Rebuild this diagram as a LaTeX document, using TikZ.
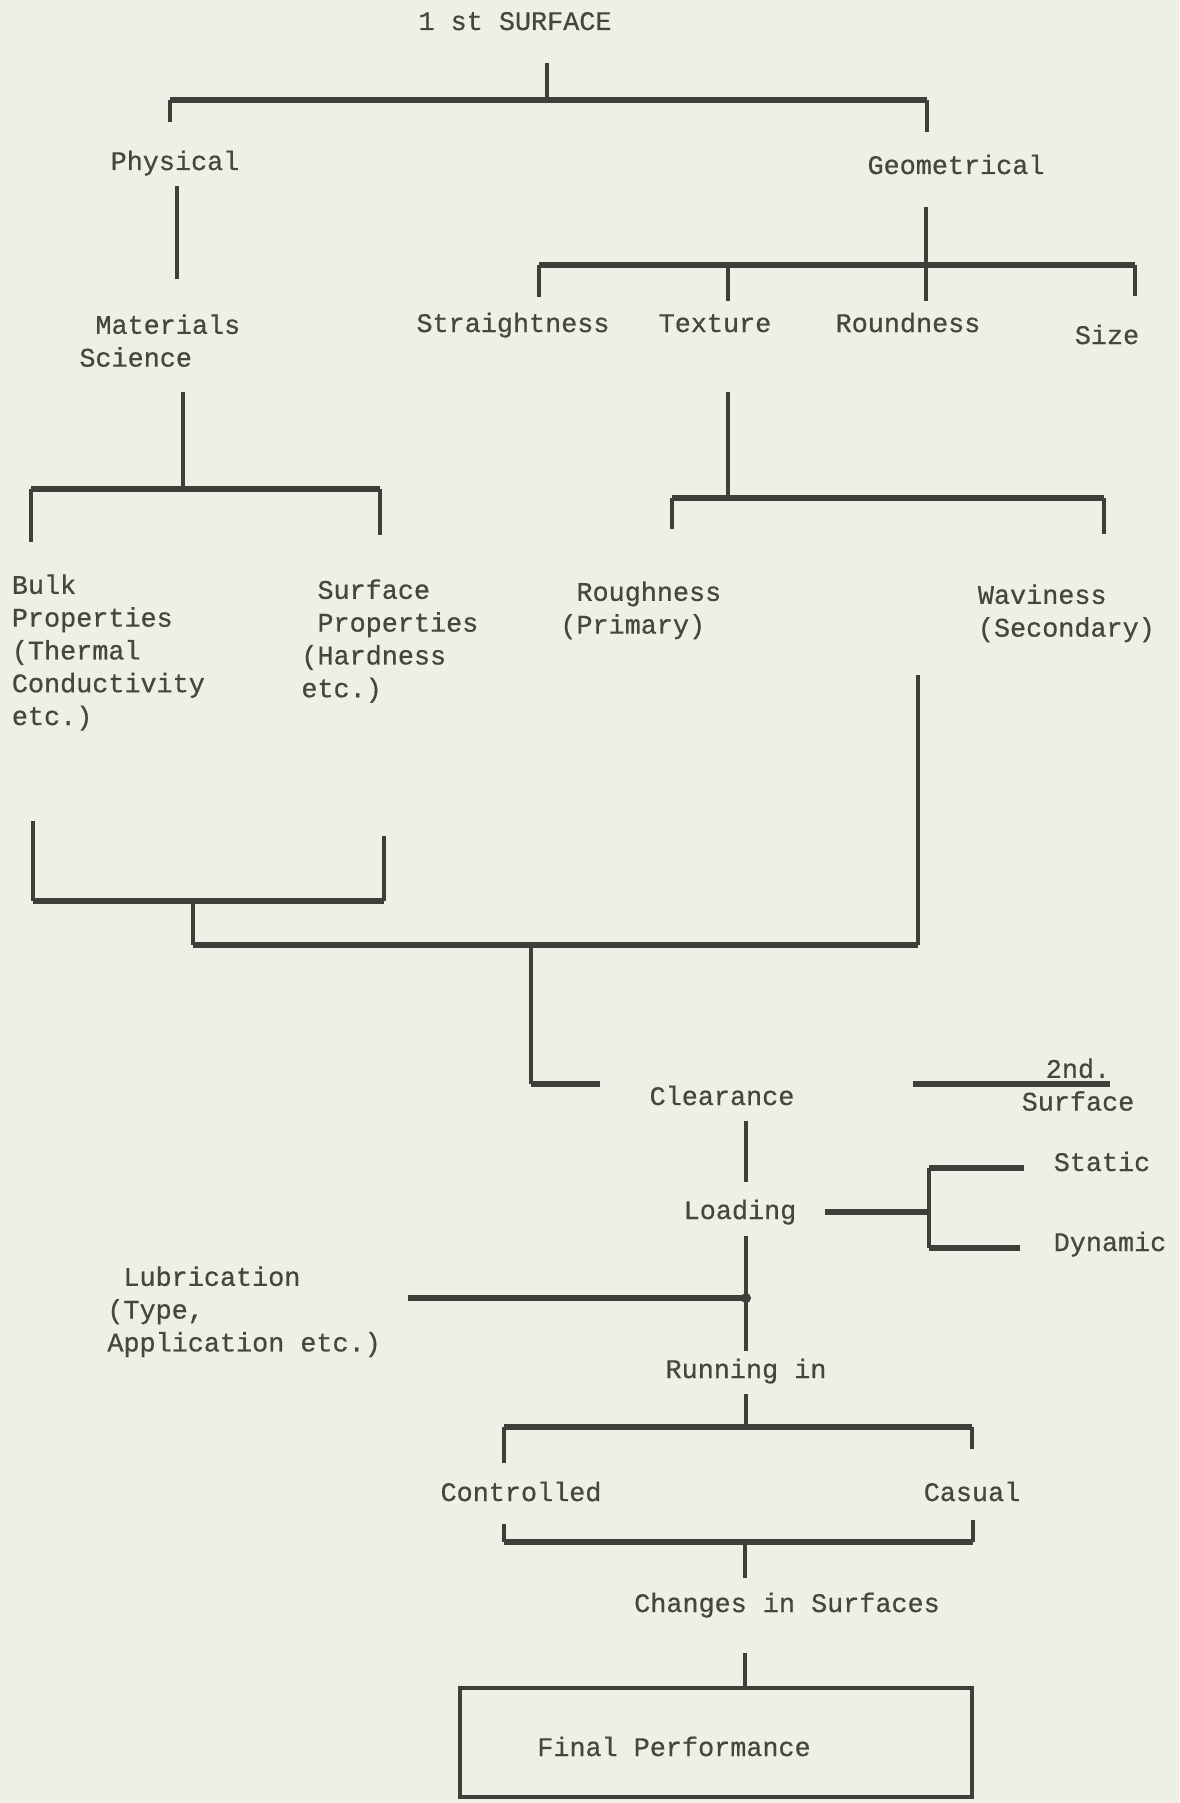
\documentclass[tikz,border=0pt]{standalone}
\usepackage{fontspec}
\setmonofont[FakeBold=0.6]{Liberation Mono}
\definecolor{paper}{RGB}{239,239,229}
\definecolor{ink}{RGB}{62,62,58}
\definecolor{inkt}{RGB}{70,70,64}
\begin{document}
\begin{tikzpicture}[x=0.5pt,y=-0.5pt,
  lbl/.style={font=\ttfamily\fontsize{13.4}{16.4}\selectfont, text=inkt, inner sep=0pt},
  mlbl/.style={lbl, align=left, anchor=north west},
  hbar/.style={draw=ink, line width=2.6pt},
  vbar/.style={draw=ink, line width=1.7pt},
  boxstyle/.style={draw=ink, line width=2.3pt, minimum width=256pt, minimum height=54.5pt, inner sep=0pt}]
\fill[paper] (0,0) rectangle (1179,1803);
\useasboundingbox (0,0) rectangle (1179,1803);
% ---------- labels ----------
\node[lbl, anchor=base] (top) at (515,30) {1 st SURFACE};
\node[lbl, anchor=base] (phys) at (175,170) {Physical};
\node[lbl, anchor=base] (geom) at (956,174) {Geometrical};
\node[mlbl] (mat) at (79,314) {\phantom{X}Materials\\Science};
\node[lbl, anchor=base] (straight) at (513,332) {Straightness};
\node[lbl, anchor=base] (texture) at (715,332) {Texture};
\node[lbl, anchor=base] (round) at (908,332) {Roundness};
\node[lbl, anchor=base] (size) at (1107,344) {Size};
\node[mlbl] (bulk) at (11.5,574) {Bulk\\Properties\\(Thermal\\Conductivity\\etc.)};
\node[mlbl] (surf) at (301,579) {\phantom{X}Surface\\\phantom{X}Properties\\(Hardness\\etc.)};
\node[mlbl] (rough) at (560,581) {\phantom{X}Roughness\\(Primary)};
\node[mlbl] (wavy) at (977.5,584) {Waviness\\(Secondary)};
\node[lbl, anchor=base] (clear) at (722,1105) {Clearance};
\node[lbl, align=center, anchor=north] (second) at (1078,1058) {2nd.\\Surface};
\node[lbl, anchor=base] (static) at (1102,1171) {Static};
\node[lbl, anchor=base] (load) at (740,1219) {Loading};
\node[lbl, anchor=base] (dyn) at (1110,1251) {Dynamic};
\node[mlbl] (lub) at (107,1266) {\phantom{X}Lubrication\\(Type,\\Application etc.)};
\node[lbl, anchor=base] (run) at (746,1378) {Running in};
\node[lbl, anchor=base] (ctrl) at (521,1501) {Controlled};
\node[lbl, anchor=base] (casual) at (972,1501) {Casual};
\node[lbl, anchor=base] (chg) at (787,1612) {Changes in Surfaces};
\node[boxstyle] (finalbox) at (716,1742.5) {};
\node[lbl, anchor=base] (final) at (674,1756) {Final Performance};
% ---------- junction coordinates ----------
\coordinate (t0) at (547,63);   \coordinate (t1) at (547,100);
\coordinate (tl) at (170,100);  \coordinate (tr) at (927,100);
\coordinate (tlp) at (170,122); \coordinate (trg) at (927,132);
\coordinate (p0) at (177,186);  \coordinate (p1) at (177,279);
\coordinate (g0) at (926,207);  \coordinate (g1) at (926,301);
\coordinate (gl) at (539,265);  \coordinate (gr) at (1135,265);
\coordinate (gs) at (539,297);  \coordinate (gz) at (1135,296);
\coordinate (gt0) at (728,265); \coordinate (gt1) at (728,301);
\coordinate (m0) at (183,392);  \coordinate (m1) at (183,489);
\coordinate (ml) at (31,489);   \coordinate (mr) at (380,489);
\coordinate (mb) at (31,542);   \coordinate (ms) at (380,535);
\coordinate (x0) at (728,392);  \coordinate (x1) at (728,498);
\coordinate (xl) at (672,498);  \coordinate (xr) at (1104,498);
\coordinate (xro) at (672,529); \coordinate (xw) at (1104,534);
\coordinate (bb) at (33,821);   \coordinate (bs) at (384,836);
\coordinate (bl) at (33,901);   \coordinate (br) at (384,901);
\coordinate (b1) at (193,901);  \coordinate (b2) at (193,945);
\coordinate (w0) at (918,675);  \coordinate (w1) at (918,945);
\coordinate (c0) at (531,945);  \coordinate (c1) at (531,1084);
\coordinate (c2) at (600,1084);
\coordinate (s0) at (913,1084); \coordinate (s1) at (1110,1084);
\coordinate (cl0) at (746,1121); \coordinate (cl1) at (746,1182);
\coordinate (ld0) at (825,1212); \coordinate (ld1) at (929,1212);
\coordinate (sd0) at (929,1168); \coordinate (sd1) at (929,1248);
\coordinate (st) at (1024,1168); \coordinate (dy) at (1020,1248);
\coordinate (lr0) at (746,1236); \coordinate (lr1) at (746,1351);
\coordinate (lu0) at (408,1298); \coordinate (lu1) at (746,1298);
\coordinate (r0) at (746,1394); \coordinate (r1) at (746,1427);
\coordinate (rl) at (504,1427); \coordinate (rr) at (972,1427);
\coordinate (rc) at (504,1463); \coordinate (rca) at (972,1449);
\coordinate (kl) at (504,1524); \coordinate (kr) at (973,1520);
\coordinate (kbl) at (504,1542); \coordinate (kbr) at (973,1542);
\coordinate (k0) at (745,1542); \coordinate (k1) at (745,1578);
\coordinate (f0) at (745,1653);
% ---------- connectors ----------
\draw[vbar] (t0) -- (t1);
\draw[hbar] (tl) -- (tr);
\draw[vbar] (tl) -- (tlp);
\draw[vbar] (tr) -- (trg);
\draw[vbar] (p0) -- (p1);
\draw[vbar] (g0) -- (g1);
\draw[hbar] (gl) -- (gr);
\draw[vbar] (gl) -- (gs);
\draw[vbar] (gr) -- (gz);
\draw[vbar] (gt0) -- (gt1);
\draw[vbar] (m0) -- (m1);
\draw[hbar] (ml) -- (mr);
\draw[vbar] (ml) -- (mb);
\draw[vbar] (mr) -- (ms);
\draw[vbar] (x0) -- (x1);
\draw[hbar] (xl) -- (xr);
\draw[vbar] (xl) -- (xro);
\draw[vbar] (xr) -- (xw);
\draw[vbar] (bb) -- (bl);
\draw[vbar] (bs) -- (br);
\draw[hbar] (bl) -- (br);
\draw[vbar] (b1) -- (b2);
\draw[vbar] (w0) -- (w1);
\draw[hbar] (b2) -- (w1);
\draw[vbar] (c0) -- (c1);
\draw[hbar] (c1) -- (c2);
\draw[hbar] (s0) -- (s1);
\draw[vbar] (cl0) -- (cl1);
\draw[hbar] (ld0) -- (ld1);
\draw[vbar] (sd0) -- (sd1);
\draw[hbar] (sd0) -- (st);
\draw[hbar] (sd1) -- (dy);
\draw[vbar] (lr0) -- (lr1);
\draw[hbar] (lu0) -- (lu1);
\fill[ink] (lu1) circle (5);
\draw[vbar] (r0) -- (r1);
\draw[hbar] (rl) -- (rr);
\draw[vbar] (rl) -- (rc);
\draw[vbar] (rr) -- (rca);
\draw[vbar] (kl) -- (kbl);
\draw[vbar] (kr) -- (kbr);
\draw[hbar] (kbl) -- (kbr);
\draw[vbar] (k0) -- (k1);
\draw[vbar] (f0) -- (finalbox.north -| f0);
\end{tikzpicture}
\end{document}
